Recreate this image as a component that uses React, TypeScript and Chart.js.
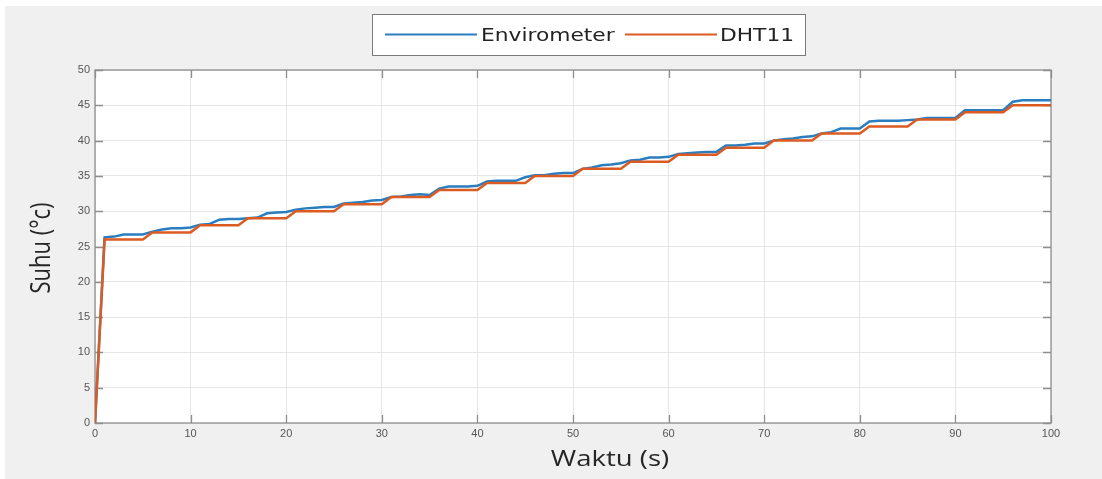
import { useEffect, useRef } from "react";
import { Chart, registerables } from "chart.js";

Chart.register(...registerables);

// Sample times in seconds
const waktu = [
  0, 1, 2, 3, 4, 5, 6, 7, 8, 9, 10, 11, 12, 13, 14, 15, 16, 17, 18, 19, 20,
  21, 22, 23, 24, 25, 26, 27, 28, 29, 30, 31, 32, 33, 34, 35, 36, 37, 38, 39, 40,
  41, 42, 43, 44, 45, 46, 47, 48, 49, 50, 51, 52, 53, 54, 55, 56, 57, 58, 59, 60,
  61, 62, 63, 64, 65, 66, 67, 68, 69, 70, 71, 72, 73, 74, 75, 76, 77, 78, 79, 80,
  81, 82, 83, 84, 85, 86, 87, 88, 89, 90, 91, 92, 93, 94, 95, 96, 97, 98, 99, 100,
];

// Temperature read by the Envirometer (°C)
const envirometer = [
  0, 26.3, 26.4, 26.7, 26.7, 26.7, 27.1, 27.4, 27.6, 27.6, 27.7,
  28.1, 28.2, 28.8, 28.9, 28.9, 29.0, 29.1, 29.7, 29.8, 29.9,
  30.2, 30.4, 30.5, 30.6, 30.6, 31.1, 31.2, 31.3, 31.5, 31.6,
  32.0, 32.1, 32.3, 32.4, 32.3, 33.2, 33.5, 33.5, 33.5, 33.6,
  34.2, 34.3, 34.3, 34.3, 34.8, 35.1, 35.1, 35.3, 35.4, 35.4,
  36.0, 36.2, 36.5, 36.6, 36.8, 37.2, 37.3, 37.6, 37.6, 37.7,
  38.1, 38.2, 38.3, 38.4, 38.4, 39.3, 39.3, 39.4, 39.6, 39.6,
  40.0, 40.2, 40.3, 40.5, 40.6, 41.0, 41.2, 41.7, 41.7, 41.7,
  42.7, 42.8, 42.8, 42.8, 42.9, 43.0, 43.2, 43.2, 43.2, 43.2,
  44.3, 44.3, 44.3, 44.3, 44.3, 45.5, 45.7, 45.7, 45.7, 45.7,
];

// Temperature read by the DHT11 sensor (°C)
const dht11 = [
  0, 26, 26, 26, 26, 26, 27, 27, 27, 27, 27,
  28, 28, 28, 28, 28, 29, 29, 29, 29, 29,
  30, 30, 30, 30, 30, 31, 31, 31, 31, 31,
  32, 32, 32, 32, 32, 33, 33, 33, 33, 33,
  34, 34, 34, 34, 34, 35, 35, 35, 35, 35,
  36, 36, 36, 36, 36, 37, 37, 37, 37, 37,
  38, 38, 38, 38, 38, 39, 39, 39, 39, 39,
  40, 40, 40, 40, 40, 41, 41, 41, 41, 41,
  42, 42, 42, 42, 42, 43, 43, 43, 43, 43,
  44, 44, 44, 44, 44, 45, 45, 45, 45, 45,
];

const xTicks = [0, 10, 20, 30, 40, 50, 60, 70, 80, 90, 100];
const yTicks = [0, 5, 10, 15, 20, 25, 30, 35, 40, 45, 50];

const seriesNames = ["Envirometer", "DHT11"];
const seriesColors = ["#2a7dbf", "#dc5b23"];

const xTitle = "Waktu (s)";
const yTitle = "Suhu (°c)";

const W = 1102;
const H = 479;
const TEXT_STRETCH = 1.25;

const frameColor = "#8e8e8e";
const tickLen = 8;

// Figure background, axes frame with inward ticks, axis titles and the boxed legend
const decorPlugin = {
  id: "decor",
  beforeDraw(chart: any) {
    const { ctx, chartArea } = chart;
    ctx.save();
    ctx.fillStyle = "#ffffff";
    ctx.fillRect(0, 0, W, H);
    ctx.fillStyle = "#f0f0f0";
    ctx.fillRect(5, 6, W - 5, H - 6);
    ctx.fillStyle = "#ffffff";
    ctx.fillRect(chartArea.left, chartArea.top, chartArea.right - chartArea.left, chartArea.bottom - chartArea.top);
    ctx.restore();
  },
  beforeDatasetsDraw(chart: any) {
    const { ctx, chartArea, scales } = chart;
    const { left, right, top, bottom } = chartArea;
    ctx.save();
    ctx.strokeStyle = frameColor;
    ctx.lineWidth = 1.3;
    ctx.strokeRect(left, top, right - left, bottom - top);
    ctx.beginPath();
    xTicks.forEach((v) => {
      const x = Math.round(scales.x.getPixelForValue(v)) + 0.5;
      ctx.moveTo(x, bottom);
      ctx.lineTo(x, bottom - tickLen);
      ctx.moveTo(x, top);
      ctx.lineTo(x, top + tickLen);
    });
    yTicks.forEach((v) => {
      const y = Math.round(scales.y.getPixelForValue(v)) + 0.5;
      ctx.moveTo(left, y);
      ctx.lineTo(left + tickLen, y);
      ctx.moveTo(right, y);
      ctx.lineTo(right - tickLen, y);
    });
    ctx.stroke();
    ctx.restore();
  },
  afterDraw(chart: any) {
    const { ctx } = chart;
    ctx.save();
    ctx.fillStyle = "#262626";
    ctx.font = '22px "Open Sans"';
    ctx.textAlign = "center";
    ctx.textBaseline = "middle";

    ctx.save();
    ctx.translate(610, 460);
    ctx.scale(TEXT_STRETCH, 1);
    ctx.fillText(xTitle, 0, 0);
    ctx.restore();

    ctx.save();
    ctx.translate(42, 248);
    ctx.rotate(-Math.PI / 2);
    ctx.scale(1, TEXT_STRETCH);
    ctx.fillText(yTitle, 0, 0);
    ctx.restore();

    // legend box
    ctx.fillStyle = "#ffffff";
    ctx.fillRect(372.5, 14.5, 433, 41);
    ctx.strokeStyle = "#7a7a7a";
    ctx.lineWidth = 1;
    ctx.strokeRect(372.5, 14.5, 433, 41);

    const entries = [
      { line: [385, 477], text: 481 },
      { line: [625, 717], text: 720 },
    ];
    entries.forEach((e, i) => {
      ctx.strokeStyle = seriesColors[i];
      ctx.lineWidth = 2.2;
      ctx.beginPath();
      ctx.moveTo(e.line[0], 34.5);
      ctx.lineTo(e.line[1], 34.5);
      ctx.stroke();
      ctx.save();
      ctx.translate(e.text, 40.7);
      ctx.scale(1.28, 1);
      ctx.fillStyle = "#222222";
      ctx.font = '17px "DejaVu Sans"';
      ctx.textAlign = "left";
      ctx.textBaseline = "alphabetic";
      ctx.fillText(seriesNames[i], 0, 0);
      ctx.restore();
    });
    ctx.restore();
  },
};

export default function App() {
  const canvasRef = useRef<HTMLCanvasElement | null>(null);

  useEffect(() => {
    const canvas = canvasRef.current;
    if (!canvas) return;
    const tickFont = { family: '"Liberation Sans", Arial, sans-serif', size: 11 };
    const chart = new Chart(canvas, {
      type: "line",
      data: {
        datasets: [
          {
            label: seriesNames[0],
            data: waktu.map((t, i) => ({ x: t, y: envirometer[i] })),
            borderColor: seriesColors[0],
            backgroundColor: seriesColors[0],
            borderWidth: 2.5,
            pointRadius: 0,
            tension: 0,
            order: 1,
          },
          {
            label: seriesNames[1],
            data: waktu.map((t, i) => ({ x: t, y: dht11[i] })),
            borderColor: seriesColors[1],
            backgroundColor: seriesColors[1],
            borderWidth: 2.5,
            pointRadius: 0,
            tension: 0,
            order: 0,
          },
        ],
      },
      options: {
        animation: false,
        responsive: false,
        maintainAspectRatio: false,
        devicePixelRatio: 1,
        layout: { padding: { top: 70, right: 51, left: 0, bottom: 0 } },
        plugins: {
          legend: { display: false },
          tooltip: { enabled: false },
        },
        scales: {
          x: {
            type: "linear",
            min: 0,
            max: 100,
            afterFit: (s: any) => {
              s.height = 56;
            },
            afterBuildTicks: (s: any) => {
              s.ticks = xTicks.map((v) => ({ value: v }));
            },
            ticks: {
              font: tickFont,
              color: "#555555",
              padding: 4,
              maxRotation: 0,
              autoSkip: false,
            },
            grid: { color: "#e6e6e6", drawTicks: false },
            border: { display: false },
          },
          y: {
            type: "linear",
            min: 0,
            max: 50,
            afterFit: (s: any) => {
              s.width = 95;
            },
            afterBuildTicks: (s: any) => {
              s.ticks = yTicks.map((v) => ({ value: v }));
            },
            ticks: {
              font: tickFont,
              color: "#555555",
              padding: 5,
              autoSkip: false,
            },
            grid: { color: "#e6e6e6", drawTicks: false },
            border: { display: false },
          },
        },
      },
      plugins: [decorPlugin],
    });
    return () => chart.destroy();
  }, []);

  return (
    <div style={{ position: "absolute", left: 0, top: 0, width: W, height: H }}>
      <canvas ref={canvasRef} width={W} height={H} style={{ display: "block", width: W, height: H }} />
    </div>
  );
}
